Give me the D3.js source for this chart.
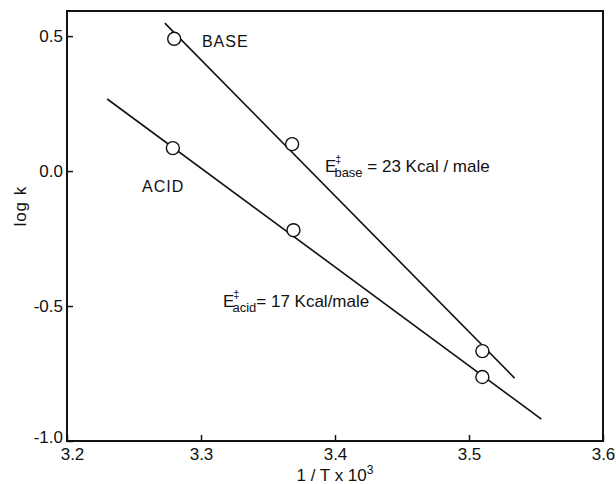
<!DOCTYPE html>
<html>
<head>
<meta charset="utf-8">
<script src="https://cdn.jsdelivr.net/npm/d3@7"></script>
<style>
  body { margin: 0; background: #fff; }
  text { font-family: "Liberation Sans", Arial, sans-serif; fill: #111; }
</style>
</head>
<body>
<svg width="616" height="484"></svg>
<script>
// measured points
let baseX = [3.28, 3.368, 3.51];
let baseY = [0.49, 0.10, -0.667];
let acidX = [3.279, 3.369, 3.51];
let acidY = [0.085, -0.219, -0.763];

// fitted lines (end points)
let baseFitX = [3.273, 3.534];
let baseFitY = [0.548, -0.767];
let acidFitX = [3.23, 3.554];
let acidFitY = [0.267, -0.919];

let xTicks = [3.2, 3.3, 3.4, 3.5, 3.6];
let yTicks = [0.5, 0.0, -0.5, -1.0];

let svg = d3.select('svg');
let width = +svg.attr('width');
let height = +svg.attr('height');

let padding = { t: 11, r: 13, b: 43, l: 67 };

let xScale = d3.scaleLinear()
    .domain([3.2, 3.6])
    .range([padding.l, width - padding.r]);

let yScale = d3.scaleLinear()
    .domain([-1.0, 0.593])
    .range([height - padding.b, padding.t]);

// frame
svg.append('rect')
    .attr('x', xScale(3.2))
    .attr('y', yScale(0.593))
    .attr('width', xScale(3.6) - xScale(3.2))
    .attr('height', yScale(-1.0) - yScale(0.593))
    .attr('fill', 'none')
    .attr('stroke', '#111')
    .attr('stroke-width', 2);

// axes, ticks pointing inward
let bottomAxis = d3.axisBottom(xScale)
    .tickValues(xTicks)
    .tickSize(-6)
    .tickPadding(7)
    .tickFormat(d3.format('.1f'));

let leftAxis = d3.axisLeft(yScale)
    .tickValues(yTicks)
    .tickSize(-6)
    .tickPadding(4)
    .tickFormat(d => d3.format('.1f')(d).replace('−', '-'));

let gx = svg.append('g')
    .attr('transform', 'translate(0,' + yScale(-1.0) + ')')
    .call(bottomAxis);

let gy = svg.append('g')
    .attr('transform', 'translate(' + xScale(3.2) + ',0)')
    .call(leftAxis);

[gx, gy].forEach(g => {
    g.select('.domain').remove();
    g.selectAll('line').attr('stroke', '#111').attr('stroke-width', 1.5);
    g.selectAll('text').attr('font-size', 17).attr('fill', '#111')
        .style('font-family', '"Liberation Sans", Arial, sans-serif');
});
// first x label and last y label sit apart in the original
gx.selectAll('.tick text').filter(d => d === 3.2).attr('dx', 5);
gy.selectAll('.tick text').filter(d => d === -1.0).attr('dy', '0.1em');

// axis titles
svg.append('text')
    .attr('transform', 'translate(' + 26 + ',' + yScale(-0.13) + ') rotate(-90)')
    .attr('text-anchor', 'middle')
    .attr('font-size', 17)
    .attr('letter-spacing', 1)
    .text('log  k');

let xt = svg.append('text')
    .attr('x', xScale(3.4))
    .attr('y', 481)
    .attr('text-anchor', 'middle')
    .attr('font-size', 17);
xt.append('tspan').text('1 / T x 10');
xt.append('tspan').attr('dy', -7).attr('font-size', 12).text('3');

// fitted lines
let line = d3.line()
    .x(d => xScale(d[0]))
    .y(d => yScale(d[1]));

svg.append('path')
    .datum(d3.zip(baseFitX, baseFitY))
    .attr('d', line)
    .attr('fill', 'none')
    .attr('stroke', '#111')
    .attr('stroke-width', 1.6);

svg.append('path')
    .datum(d3.zip(acidFitX, acidFitY))
    .attr('d', line)
    .attr('fill', 'none')
    .attr('stroke', '#111')
    .attr('stroke-width', 1.6);

// points
let points = d3.zip(baseX, baseY).concat(d3.zip(acidX, acidY));
svg.selectAll('.pt').data(points).enter().append('circle')
    .attr('class', 'pt')
    .attr('cx', d => xScale(d[0]))
    .attr('cy', d => yScale(d[1]))
    .attr('r', 6.5)
    .attr('fill', '#fff')
    .attr('stroke', '#111')
    .attr('stroke-width', 1.4);

// labels
svg.append('text')
    .attr('x', xScale(3.3007))
    .attr('y', yScale(0.459))
    .attr('font-size', 16)
    .attr('letter-spacing', 1)
    .text('BASE');

svg.append('text')
    .attr('x', xScale(3.256))
    .attr('y', yScale(-0.078))
    .attr('font-size', 16)
    .attr('letter-spacing', 1)
    .text('ACID');

function energyLabel(x, y, sub, rest) {
    let t = svg.append('text')
        .attr('x', xScale(x))
        .attr('y', yScale(y))
        .attr('font-size', 17);
    t.append('tspan').text('E');
    t.append('tspan').attr('dy', -9).attr('dx', -1).attr('font-size', 11).text('‡');
    t.append('tspan').attr('dx', -7).attr('dy', 14).attr('font-size', 13).text(sub);
    t.append('tspan').attr('dy', -5).text(rest);
}

energyLabel(3.3925, -0.004, 'base', ' =  23 Kcal / male');
energyLabel(3.3164, -0.504, 'acid', '= 17 Kcal/male');
</script>
</body>
</html>
